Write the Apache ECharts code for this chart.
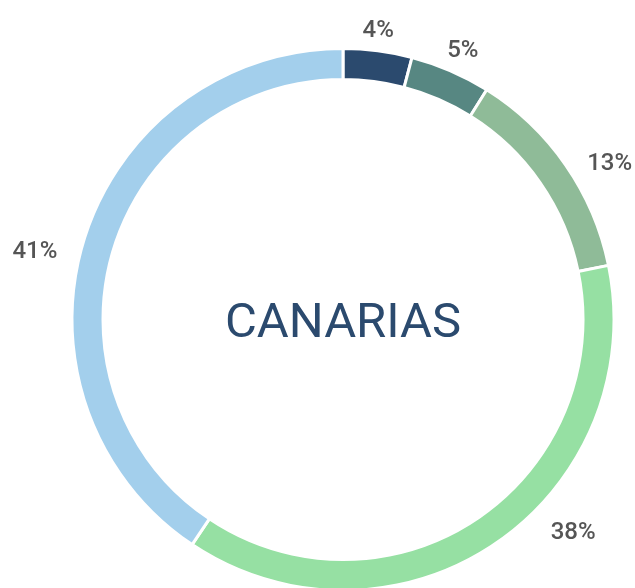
<!DOCTYPE html>
<html>
<head>
<meta charset="utf-8">
<script src="https://cdn.jsdelivr.net/npm/echarts@6/dist/echarts.min.js"></script>
<style>
html,body{margin:0;padding:0;background:#fff;}
#chart{width:635px;height:588px;}
</style>
</head>
<body>
<div id="chart"></div>
<script>
const categories = ['A', 'B', 'C', 'D', 'E'];
const values = [4.1, 4.8, 12.9, 37.6, 40.6];
const labels = ['4%', '5%', '13%', '38%', '41%'];
const colors = ['#2b4a6e', '#578782', '#8fbb98', '#96e0a3', '#a3cfec'];
const centerTitle = 'CANARIAS';
// label nudges (style only)
const labelOffsets = [[-22, -6], [-14, -7], [5, 7], [44, -23], [-8, 15]];

const chart = echarts.init(document.getElementById('chart'), null, {renderer: 'canvas'});
chart.setOption({
  animation: false,
  title: {
    text: centerTitle,
    left: 338, top: 320,
    textAlign: 'center', textVerticalAlign: 'middle',
    textStyle: {fontFamily: 'Roboto', fontSize: 49, fontWeight: 400, color: '#2b4a6e'}
  },
  series: [{
    type: 'pie',
    center: [343, 319.5],
    radius: [240, 271],
    startAngle: 90,
    clockwise: true,
    avoidLabelOverlap: false,
    itemStyle: {borderColor: '#fff', borderWidth: 3},
    label: {
      show: true,
      position: 'outside',
      fontFamily: 'Roboto',
      fontSize: 24,
      fontWeight: 500,
      color: '#555',
      formatter: p => labels[p.dataIndex]
    },
    labelLine: {show: false, length: 14, length2: 0},
    data: categories.map((c, i) => ({
      name: c, value: values[i],
      itemStyle: {color: colors[i]},
      label: {offset: labelOffsets[i]}
    }))
  }]
});
</script>
</body>
</html>
